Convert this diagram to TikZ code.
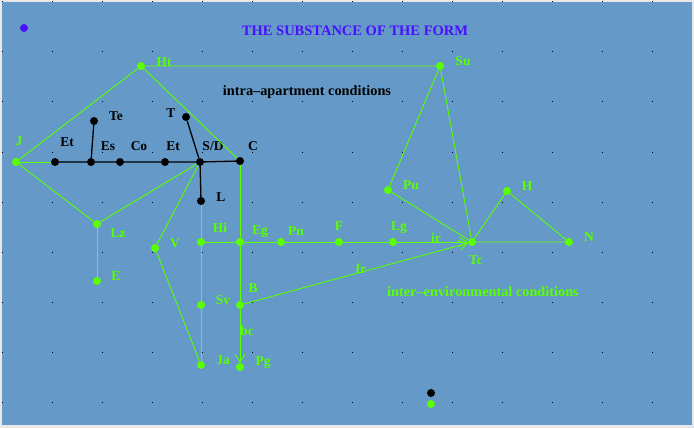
\documentclass[tikz,border=0pt]{standalone}
\usepackage{fontspec}
\setmainfont{Liberation Serif}
\usetikzlibrary{arrows.meta}
\definecolor{bgblue}{RGB}{101,154,200}
\definecolor{edgegrey}{RGB}{232,232,232}
\definecolor{lime}{RGB}{90,255,0}
\definecolor{titleblue}{RGB}{72,16,255}
\begin{document}
\begin{tikzpicture}[x=1pt,y=-1pt,
  gdot/.style={circle,fill=lime,inner sep=0pt,minimum size=8pt},
  bdot/.style={circle,fill=black,inner sep=0pt,minimum size=8pt},
  glab/.style={text=lime,font=\fontsize{13.5}{15}\selectfont\bfseries,inner sep=0pt},
  blab/.style={glab,text=black},
  gline/.style={lime,line width=0.9pt},
  bline/.style={black,line width=1.3pt},
  barb/.style={-{Straight Barb[length=8pt,width=10pt]}}]
  \useasboundingbox (0,0) rectangle (694,428);
  \fill[edgegrey] (0,0) rectangle (694,428);
  \fill[bgblue] (2,2) rectangle (692,425);
  \foreach \x in {2,52,...,652}
    \foreach \y in {2,52,...,402}
      \fill[black] (\x-0.5,\y-0.5) rectangle (\x+0.5,\y+0.5);
  \node[circle,fill=titleblue,inner sep=0pt,minimum size=8pt] (dot) at (24,28) {};
  \node[text=titleblue,font=\fontsize{14.5}{17}\selectfont\bfseries,inner sep=0pt] (title) at (355,31) {THE SUBSTANCE OF THE FORM};
  \node[text=black,font=\fontsize{14.3}{16}\selectfont\bfseries,inner sep=0pt] (intra) at (307,92) {intra--apartment conditions};
  \node[text=lime,font=\fontsize{14.3}{16}\selectfont\bfseries,inner sep=0pt] (inter) at (483,292) {inter--environmental conditions};
  % green points
  \foreach \n/\x/\y in {Ht/141/66,Su/440/66,J/16/162,Lz/97/224,E/97/281,V/155/248,Hi/201/242,
      Eg/240/242,Pn/281/242,F/339/242,Lg/393/242,Tc/472/242,N/569/242,B/240/305,Sv/201/305,
      Ja/201/365,Pg/240/367,Pu/388/190,H/507/191,G/431/404}
    \node[gdot] (\n) at (\x,\y) {};
  % black points
  \foreach \n/\x/\y in {EtA/55/162,Es/91/162,Te/94/121,Co/120/162,EtB/165/162,SD/200/162,
      T/186/117,C/240/161,L/201/201,K/431/393}
    \node[bdot] (\n) at (\x,\y) {};
  \foreach \n/\t/\x/\y in {Ht/Ht/164/62,Su/Su/463/61,J/J/19/141,Lz/Lz/118/233,E/E/116/276,
      V/V/175/243,Hi/Hi/220/228,Eg/Eg/260/232,Pn/Pn/296/231,F/F/339/226,Lg/Lg/399/228,
      Tc/Tc/476/260,N/N/589/237,B/B/253/288,Sv/Sv/223/300,Ja/Ja/223/360,Pg/Pg/263/363,
      Pu/Pu/411/185,H/H/527/186,ir/ir/436/238,fr/fr/361/269,bc/bc/247/331}
    \node[glab] (\n-l) at (\x,\y) {\t};
  \foreach \n/\t/\x/\y in {EtA/Et/67/142,Es/Es/108/146,Te/Te/116/116,Co/Co/139/146,
      EtB/Et/173/146,T/T/171/113,C/C/253/146,L/L/221/197}
    \node[blab] (\n-l) at (\x,\y) {\t};
  \node[blab] (SD-l) at (213,146) {S/D};
  \draw[gline] (J) -- (Ht) -- (Su);
  \draw[gline] (Ht) -- (C);
  \draw[gline] (J) -- (EtA);
  \draw[gline] (J) -- (Lz) -- (SD) -- (V) -- (Ja);
  \draw[gline] (Lz) -- (E);
  \draw[gline] (L) -- (Hi) -- (Sv) -- (Ja);
  \draw[gline] (C) -- (Eg) -- (B);
  \draw[gline,barb] (B) -- (Pg);
  \draw[gline] (Hi) -- (Eg) -- (Pn) -- (F) -- (Lg);
  \draw[gline,barb] (Lg) -- (Tc);
  \draw[gline,barb] (B) -- (Tc);
  \draw[gline] (Tc) -- (N) -- (H) -- (Tc);
  \draw[gline] (Su) -- (Pu) -- (Tc) -- (Su);
  \draw[bline] (EtA) -- (Es) -- (Co) -- (EtB) -- (SD) -- (C);
  \draw[bline] (Te) -- (Es);
  \draw[bline] (T) -- (SD) -- (L);
\end{tikzpicture}
\end{document}
